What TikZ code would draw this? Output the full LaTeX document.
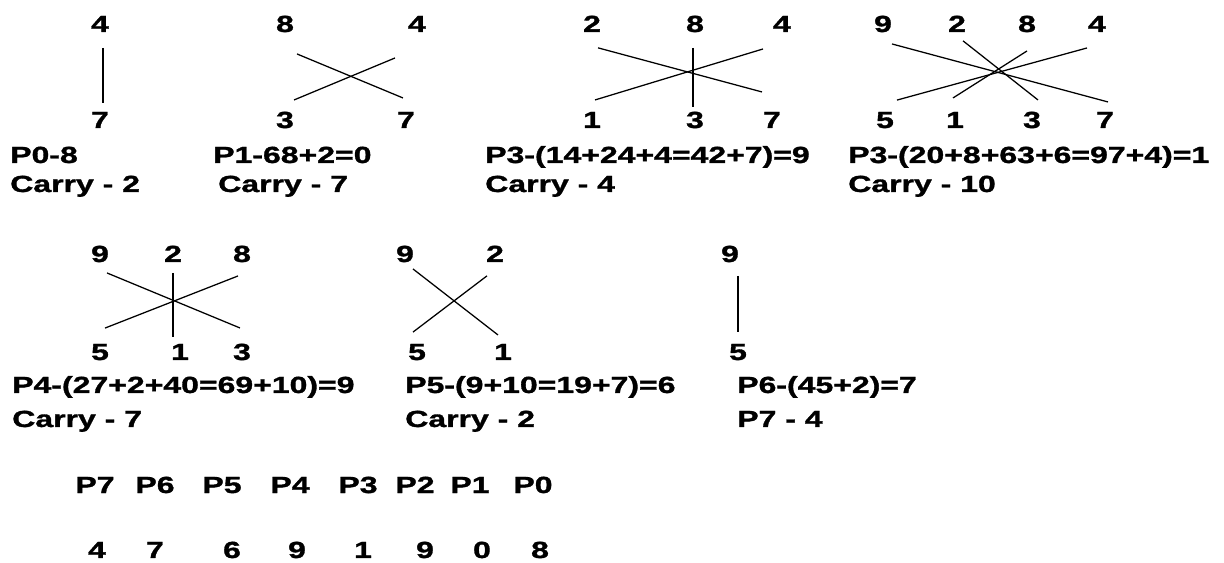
\documentclass[tikz,border=0pt]{standalone}
\usepackage{fontspec}
\setmainfont{Liberation Sans}[FakeStretch=1.37,BoldFeatures={FakeBold=1.4}]
\usetikzlibrary{positioning}

\begin{document}
\begin{tikzpicture}[x=0.025cm, y=-0.025cm,
    dig/.style={inner sep=0pt, anchor=base, font=\fontsize{16.6}{20}\selectfont\bfseries},
    txt/.style={dig, anchor=base west},
    wire/.style={line width=0.9pt}]
        \useasboundingbox (0,0) rectangle (1224,563);

        % P0
        \node[dig] (a_t1) at (100,32)  {4};
        \node[dig] (a_b1) at (100,128) {7};
        \node[txt] (a_p)  at (10,163)  {P0-8};
        \node[txt] (a_c)  at (10,192)  {Carry - 2};

        % P1
        \node[dig] (b_t1) at (285,32)  {8};
        \node[dig] (b_t2) at (417,32)  {4};
        \node[dig] (b_b1) at (285,128) {3};
        \node[dig] (b_b2) at (406,128) {7};
        \node[txt] (b_p)  at (213,163) {P1-68+2=0};
        \node[txt] (b_c)  at (218,192) {Carry - 7};

        % P2
        \node[dig] (c_t1) at (592,32)  {2};
        \node[dig] (c_t2) at (695,32)  {8};
        \node[dig] (c_t3) at (782,32)  {4};
        \node[dig] (c_b1) at (592,128) {1};
        \node[dig] (c_b2) at (695,128) {3};
        \node[dig] (c_b3) at (772,128) {7};
        \node[txt] (c_p)  at (485,163) {P3-(14+24+4=42+7)=9};
        \node[txt] (c_c)  at (485,192) {Carry - 4};

        % P3
        \node[dig] (d_t1) at (883,32)  {9};
        \node[dig] (d_t2) at (957,32)  {2};
        \node[dig] (d_t3) at (1027,32) {8};
        \node[dig] (d_t4) at (1097,32) {4};
        \node[dig] (d_b1) at (885,128) {5};
        \node[dig] (d_b2) at (955,128) {1};
        \node[dig] (d_b3) at (1032,128) {3};
        \node[dig] (d_b4) at (1105,128) {7};
        \node[txt] (d_p)  at (848,163) {P3-(20+8+63+6=97+4)=1};
        \node[txt] (d_c)  at (848,192) {Carry - 10};

        % P4
        \node[dig] (e_t1) at (100,262) {9};
        \node[dig] (e_t2) at (173,262) {2};
        \node[dig] (e_t3) at (242,262) {8};
        \node[dig] (e_b1) at (100,360) {5};
        \node[dig] (e_b2) at (180,360) {1};
        \node[dig] (e_b3) at (242,360) {3};
        \node[txt] (e_p)  at (12,393)  {P4-(27+2+40=69+10)=9};
        \node[txt] (e_c)  at (12,427)  {Carry - 7};

        % P5
        \node[dig] (f_t1) at (405,262) {9};
        \node[dig] (f_t2) at (495,262) {2};
        \node[dig] (f_b1) at (417,360) {5};
        \node[dig] (f_b2) at (503,360) {1};
        \node[txt] (f_p)  at (405,393) {P5-(9+10=19+7)=6};
        \node[txt] (f_c)  at (405,427) {Carry - 2};

        % P6
        \node[dig] (g_t1) at (730,262) {9};
        \node[dig] (g_b1) at (738,360) {5};
        \node[txt] (g_p)  at (737,393) {P6-(45+2)=7};
        \node[txt] (g_c)  at (737,427) {P7 - 4};

        % result
        \foreach \n/\x/\v/\y in {7/95/4/97, 6/155/7/155, 5/222/6/232, 4/290/9/297,
                                 3/358/1/363, 2/415/9/425, 1/470/0/482, 0/533/8/540} {
            \node[dig] (r_p\n) at (\x,493) {P\n};
            \node[dig] (r_v\n) at (\y,558) {\v};
        }

        \draw[wire] ([shift={(3,24)}]a_t1.center) -- ([shift={(3,-17)}]a_b1.center);

        \draw[wire] ([shift={(12,30)}]b_t1.center)  -- ([shift={(-3,-22)}]b_b2.center);
        \draw[wire] ([shift={(-22,34)}]b_t2.center) -- ([shift={(9,-20)}]b_b1.center);

        \draw[wire] ([shift={(6,24)}]c_t1.center)   -- ([shift={(-10,-28)}]c_b3.center);
        \draw[wire] ([shift={(-19,25)}]c_t3.center) -- ([shift={(3,-20)}]c_b1.center);
        \draw[wire] ([shift={(-2,24)}]c_t2.center)  -- ([shift={(-2,-13)}]c_b2.center);

        \draw[wire] ([shift={(9,20)}]d_t1.center)   -- ([shift={(3,-18)}]d_b4.center);
        \draw[wire] ([shift={(-10,24)}]d_t4.center) -- ([shift={(12,-20)}]d_b1.center);
        \draw[wire] ([shift={(6,17)}]d_t2.center)   -- ([shift={(6,-20)}]d_b3.center);
        \draw[wire] ([shift={(0,27)}]d_t3.center)   -- ([shift={(-2,-22)}]d_b2.center);

        \draw[wire] ([shift={(7,19)}]e_t1.center)   -- ([shift={(-2,-24)}]e_b3.center);
        \draw[wire] ([shift={(-4,22)}]e_t3.center)  -- ([shift={(5,-24)}]e_b1.center);
        \draw[wire] ([shift={(0,19)}]e_t2.center)   -- ([shift={(-7,-15)}]e_b2.center);

        \draw[wire] ([shift={(8,15)}]f_t1.center)   -- ([shift={(-5,-17)}]f_b2.center);
        \draw[wire] ([shift={(-8,22)}]f_t2.center)  -- ([shift={(-4,-20)}]f_b1.center);

        \draw[wire] ([shift={(8,22)}]g_t1.center)   -- ([shift={(0,-20)}]g_b1.center);
\end{tikzpicture}
\end{document}
